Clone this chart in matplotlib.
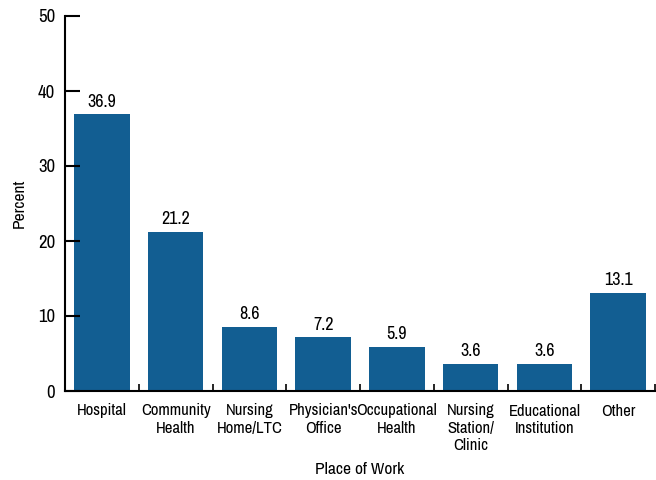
import matplotlib
matplotlib.use("Agg")
import matplotlib.pyplot as plt
from matplotlib import font_manager

# Look for a narrow/condensed sans face; fall back to plain DejaVu Sans
FONT, STRETCH = "DejaVu Sans", "normal"
for f in font_manager.fontManager.ttflist:
    narrow = ("Narrow" in f.name or "Condensed" in f.name
              or "condensed" in str(f.stretch))
    if narrow and f.style == "normal" and f.weight in (400, "normal", "regular"):
        FONT, STRETCH = f.name, f.stretch
        if "Narrow" in f.name:
            break
plt.rcParams["font.family"] = [FONT, "DejaVu Sans"]
plt.rcParams["font.stretch"] = STRETCH

# ── Data ────────────────────────────────────────────────────
categories = ["Hospital", "Community\nHealth", "Nursing\nHome/LTC",
              "Physician's\nOffice", "Occupational\nHealth",
              "Nursing\nStation/\nClinic", "Educational\nInstitution", "Other"]
percent = [36.9, 21.2, 8.6, 7.2, 5.9, 3.6, 3.6, 13.1]
y_ticks = [0, 10, 20, 30, 40, 50]

BAR_COLOR = "#125E92"

fig = plt.figure(figsize=(6.56, 4.80), dpi=100)
ax = fig.add_axes([65 / 656, 1 - 391 / 480, 590 / 656, 375 / 480])

x = range(len(categories))
bars = ax.bar(x, percent, width=0.75, color=BAR_COLOR)
for b, v in zip(bars, percent):
    ax.text(b.get_x() + b.get_width() / 2, v + 0.6, f"{v:.1f}",
            ha="center", va="bottom", fontsize=13)

ax.set_xlim(-0.5, len(categories) - 0.5)
ax.set_ylim(0, 50)
ax.set_yticks(y_ticks)

# category names at centres, small inward ticks between the bars
ax.set_xticks(list(x))
ax.set_xticklabels(categories, fontsize=12, linespacing=1.2)
ax.set_xticks([i + 0.5 for i in x], minor=True)
ax.tick_params(axis="x", which="major", length=0, pad=9)
ax.tick_params(axis="x", which="minor", direction="in", length=5, width=1.2)
ax.tick_params(axis="y", direction="in", length=11, width=1.5, pad=7,
               labelsize=13.5)

for side in ("top", "right"):
    ax.spines[side].set_visible(False)
for side in ("left", "bottom"):
    ax.spines[side].set_linewidth(1.5)

ax.set_ylabel("Percent", fontsize=12.5, labelpad=8)
ax.set_xlabel("Place of Work", fontsize=12.5, labelpad=6)

fig.savefig("out.png", dpi=100)
